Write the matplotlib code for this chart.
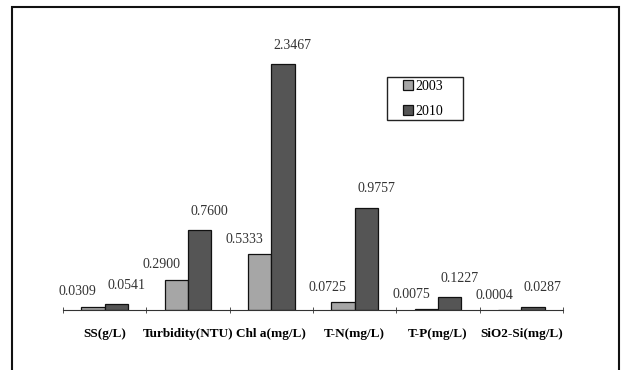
import matplotlib
matplotlib.use("Agg")
import matplotlib.pyplot as plt
from matplotlib.patches import Rectangle
import numpy as np

categories = ["SS(g/L)", "Turbidity(NTU)", "Chl a(mg/L)", "T-N(mg/L)", "T-P(mg/L)", "SiO2-Si(mg/L)"]
vals_2003 = [0.0309, 0.2900, 0.5333, 0.0725, 0.0075, 0.0004]
vals_2010 = [0.0541, 0.7600, 2.3467, 0.9757, 0.1227, 0.0287]
labels_2003 = ["0.0309", "0.2900", "0.5333", "0.0725", "0.0075", "0.0004"]
labels_2010 = ["0.0541", "0.7600", "2.3467", "0.9757", "0.1227", "0.0287"]

plt.rcParams["font.family"] = ["Liberation Serif", "DejaVu Serif"]

fig = plt.figure(figsize=(6.24, 3.70), dpi=100)
# outer chart frame (runs off the bottom of the image)
fig.patches.append(Rectangle((12 / 624, -0.1), (619 - 12) / 624, 1.1 - 7 / 370,
                             transform=fig.transFigure, fill=False,
                             edgecolor="#111111", linewidth=1.5))

ax = fig.add_axes([63 / 624, 1 - 310 / 370, 500 / 624, 262 / 370])
x = np.arange(len(categories))
w = 0.28
b1 = ax.bar(x - w / 2, vals_2003, width=w, color="#a6a6a6", edgecolor="#111111", linewidth=0.9, label="2003")
b2 = ax.bar(x + w / 2, vals_2010, width=w, color="#555555", edgecolor="#111111", linewidth=0.9, label="2010")

for rect, txt in zip(b1, labels_2003):
    ax.annotate(txt, (rect.get_x() + rect.get_width() / 2, rect.get_height()),
                xytext=(-11, 6), textcoords="offset points", ha="center", va="bottom",
                fontsize=10, color="#333333")
for rect, txt in zip(b2, labels_2010):
    ax.annotate(txt, (rect.get_x() + rect.get_width() / 2, rect.get_height()),
                xytext=(7, 9), textcoords="offset points", ha="center", va="bottom",
                fontsize=10, color="#333333")

ax.set_xlim(-0.5, len(categories) - 0.5)
ax.set_ylim(0, 2.5)
for s in ("top", "left", "right"):
    ax.spines[s].set_visible(False)
ax.spines["bottom"].set_color("#333333")
ax.set_yticks([])
ax.set_xticks(x)
ax.set_xticklabels(categories, fontsize=9.5, fontweight="bold")
ax.tick_params(axis="x", which="major", length=0, pad=13)
ax.set_xticks(np.arange(len(categories) + 1) - 0.5, minor=True)
ax.tick_params(axis="x", which="minor", length=4, direction="inout", color="#333333")

# legend box drawn separately so it can be wider than its entries
ax.add_patch(Rectangle((387 / 624, 1 - 120 / 370), 76 / 624, 43 / 370,
                       transform=fig.transFigure, fill=True, facecolor="white",
                       edgecolor="#222222", linewidth=1.0, zorder=3, clip_on=False))
leg = ax.legend(loc="upper left", bbox_to_anchor=((403 - 63) / 500, (310 - 80) / 262),
                fontsize=10, frameon=False,
                handlelength=0.7, handleheight=0.7, handletextpad=0.2,
                borderpad=0, labelspacing=0.85, borderaxespad=0)
leg.set_zorder(5)

fig.savefig("out.png", dpi=100)
